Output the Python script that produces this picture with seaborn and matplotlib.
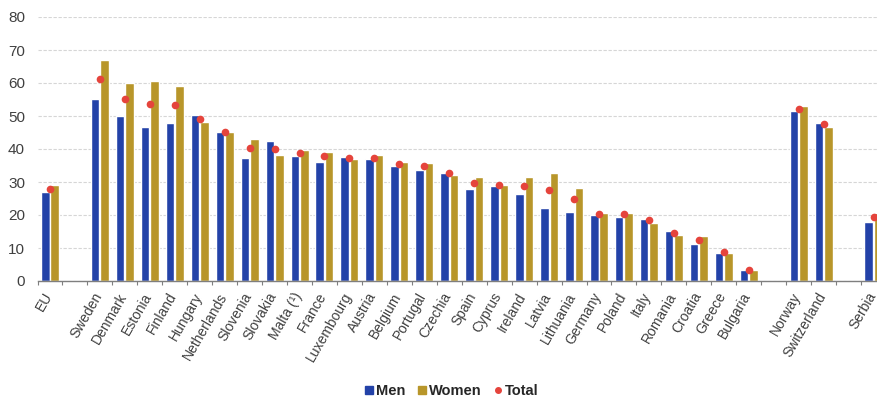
import matplotlib
matplotlib.use("Agg")
import matplotlib.pyplot as plt
import matplotlib.transforms as mtransforms
import seaborn as sns
import pandas as pd
import numpy as np
from matplotlib.lines import Line2D

sns.set_theme(style="white")
plt.rcParams['font.family'] = ['Liberation Sans', 'DejaVu Sans']

countries = ["EU", "Sweden", "Denmark", "Estonia", "Finland", "Hungary", "Netherlands",
             "Slovenia", "Slovakia", "Malta (¹)", "France", "Luxembourg", "Austria",
             "Belgium", "Portugal", "Czechia", "Spain", "Cyprus", "Ireland", "Latvia",
             "Lithuania", "Germany", "Poland", "Italy", "Romania", "Croatia", "Greece",
             "Bulgaria", "Norway", "Switzerland", "Serbia"]
men = [27.1, 55.2, 50.0, 46.8, 47.8, 50.3, 45.3, 37.4, 42.4, 37.8, 36.0, 37.5, 36.9,
       35.0, 33.6, 32.6, 27.8, 28.8, 26.3, 22.2, 21.0, 20.0, 19.5, 18.8, 15.2, 11.1,
       8.4, 3.2, 51.6, 48.0, 17.9]
women = [29.0, 67.0, 59.9, 60.6, 59.0, 48.1, 45.2, 43.1, 38.1, 39.6, 39.2, 37.1, 38.1,
         36.0, 35.7, 32.2, 31.5, 29.0, 31.5, 32.6, 28.1, 20.7, 20.7, 17.7, 13.9, 13.6,
         8.4, 3.4, 53.1, 46.8, 20.7]
total = [27.9, 61.2, 55.0, 53.5, 53.2, 49.1, 45.3, 40.2, 40.0, 38.9, 37.9, 37.4, 37.4,
         35.4, 34.8, 32.6, 29.7, 29.1, 28.8, 27.6, 24.8, 20.2, 20.2, 18.6, 14.4, 12.3,
         8.7, 3.3, 52.2, 47.5, 19.3]

# category order with empty slots separating groups
gap1, gap2, gap3 = " ", "  ", "   "
order = ["EU", gap1] + countries[1:28] + [gap2, "Norway", "Switzerland", gap3, "Serbia"]

df = pd.DataFrame({
    "country": countries * 2,
    "sex": ["Men"] * len(countries) + ["Women"] * len(countries),
    "value": men + women,
})
tot = pd.DataFrame({"country": countries, "value": total})

c_men = "#2342A8"
c_women = "#B8962A"
c_total = "#E5443C"

fig = plt.figure(figsize=(8.77, 4.01), dpi=100)
ax = fig.add_axes([37.5 / 877, 1 - 281 / 401, 1 - 37.5 / 877, (281 - 17) / 401])

sns.barplot(data=df, x="country", y="value", hue="sex", order=order,
            hue_order=["Men", "Women"], palette=[c_men, c_women],
            width=0.76, gap=0.1, ax=ax, legend=False, errorbar=None, saturation=1)
sns.stripplot(data=tot, x="country", y="value", order=order, jitter=False,
              color=c_total, size=5.5, ax=ax, linewidth=0, zorder=5)

ax.set_yticks(range(0, 81, 10))
ax.yaxis.grid(True, color="#d6d6d6", linestyle=(0, (3, 1.5)), linewidth=0.8)
ax.set_axisbelow(True)
ax.set_xlabel("")
ax.set_ylabel("")

for s in ["top", "right", "left"]:
    ax.spines[s].set_visible(False)
ax.spines["bottom"].set_color("#7f7f7f")
ax.spines["bottom"].set_linewidth(1.0)

ax.set_xticks(range(len(order)))
ax.set_xticklabels(order, rotation=60, ha="right", va="center", rotation_mode="anchor",
                   fontsize=10, color="#404040")
ax.tick_params(axis="x", which="major", length=0, pad=9)
shift = mtransforms.ScaledTranslation(-1 / 100, 0, fig.dpi_scale_trans)
for lab in ax.get_xticklabels():
    lab.set_transform(lab.get_transform() + shift)
ax.set_xticks(np.arange(-0.5, len(order), 1.0), minor=True)
ax.tick_params(axis="x", which="minor", length=3, color="#7f7f7f", width=0.8, bottom=True)
ax.tick_params(axis="y", length=0, labelsize=11, labelcolor="#404040", pad=9)

# limits last (setting ticks can widen the view)
ax.set_ylim(0, 80)
ax.set_xlim(-0.5, 33.14)

handles = [
    Line2D([], [], marker="s", linestyle="none", color=c_men, markersize=6),
    Line2D([], [], marker="s", linestyle="none", color=c_women, markersize=6),
    Line2D([], [], marker="o", linestyle="none", color=c_total, markersize=4),
]
leg = fig.legend(handles, ["Men", "Women", "Total"], loc="center",
                 bbox_to_anchor=(451 / 877, 1 - 391 / 401), ncol=3, frameon=False,
                 handletextpad=0.1, columnspacing=0.7, handlelength=0.8,
                 prop={"weight": "bold", "size": 10.5})

fig.savefig("out.png", dpi=100)
